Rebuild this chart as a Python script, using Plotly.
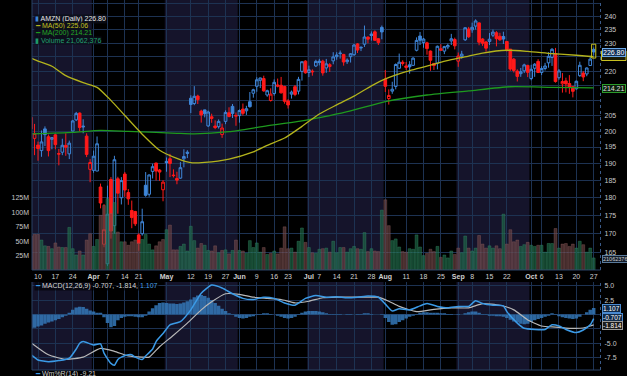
import plotly.graph_objects as go
import pandas as pd

# ---------------- data ----------------
holidays = ["2025-04-18", "2025-05-26", "2025-06-19", "2025-07-04", "2025-09-01"]
dates = [d.strftime("%Y-%m-%d") for d in pd.bdate_range("2025-03-06", "2025-10-27")
         if d.strftime("%Y-%m-%d") not in holidays]

prior_close = 203.80

open_ = [204.4, 197.7, 195.6, 193.9, 200.7, 198.2, 197.4, 198.8, 193.0, 193.4, 195.5, 192.9, 200.0, 203.6, 205.8, 201.6, 198.4, 188.2,
         187.9, 187.7, 183.0, 167.1, 162.0, 185.2, 172.1, 185.4, 179.9, 186.8, 181.4, 176.3, 176.0, 169.6, 169.9, 183.5, 180.9, 187.6, 190.1, 188.0, 182.2,
         190.6, 191.4, 186.5, 185.5, 185.6, 191.4, 193.4, 210.7, 208.95, 211.45, 206.45, 206.85, 201.65, 204.6, 201.6, 201.4, 198.9, 203.1, 205.9, 208.0, 204.8,
         204.98, 207.1, 206.55, 209.55, 212.4, 214.75, 216.8, 217.4, 211.8, 209.96, 212.3, 215.2, 215.1, 214.7, 209.8, 212.1, 214.6, 213.1, 219.9, 223.5,
         219.5, 219.7, 221.8, 223.0, 223.5, 221.1, 221.6, 223.6, 225.1, 226.2, 225.9, 223.3, 225.1, 225.8, 229.7, 228.5, 229.6, 232.2, 233.35, 234.15, 231.6, 235.8,
         217.2, 210.6, 213.1, 214.7, 221.0, 223.1, 221.8, 222.2, 222.0, 227.4, 232.6, 230.2, 230.1, 227.1, 222.7, 222.8, 227.35, 227.1, 228.6, 230.8, 231.3,
         223.5, 225.2, 231.2, 235.2, 234.9, 236.3, 237.5, 231.5, 230.4, 230.6, 232.9, 233.8, 232.5, 232.4, 230.6, 227.8, 224.2, 220.0, 219.1, 220.1, 222.0,
         217.4, 221.0, 223.4, 219.5, 220.9, 222.9, 224.8, 226.2, 217.7, 215.6, 216.6, 215.7, 214.6, 213.9, 218.4, 219.3, 219.0, 221.97, 227.7]
high = [205.8, 202.3, 196.7, 200.2, 201.5, 198.9, 198.0, 199.0, 194.4, 197.6, 199.3, 197.0, 203.6, 206.2, 206.0, 203.8, 199.3, 191.3,
        193.9, 198.3, 184.0, 178.1, 183.4, 185.9, 192.3, 186.0, 185.9, 187.4, 182.4, 179.1, 176.2, 170.0, 176.8, 187.4, 186.7, 189.9, 190.2, 188.3, 185.0,
        191.8, 192.9, 188.2, 187.5, 190.4, 194.3, 194.0, 211.7, 214.8, 211.9, 206.9, 206.9, 206.6, 205.6, 203.45, 203.75, 202.4, 206.7, 207.7, 208.8, 206.0,
        207.0, 208.95, 208.2, 212.8, 213.9, 217.85, 217.7, 218.4, 213.6, 214.05, 217.1, 217.4, 217.96, 214.9, 210.4, 213.3, 215.2, 218.0, 223.3, 223.8,
        221.9, 220.6, 224.0, 224.3, 224.0, 224.3, 222.8, 226.7, 226.7, 227.3, 226.1, 224.5, 226.4, 229.7, 230.0, 228.8, 236.5, 232.5, 234.3, 234.7, 231.8, 236.5,
        220.4, 213.7, 216.3, 222.7, 226.2, 223.8, 223.2, 223.5, 224.9, 232.1, 234.1, 231.9, 230.5, 227.3, 222.8, 229.1, 229.6, 229.0, 229.8, 233.4, 232.0,
        226.6, 227.2, 235.8, 236.0, 237.6, 238.85, 237.7, 231.8, 230.8, 233.7, 235.0, 234.4, 233.8, 234.2, 230.6, 227.8, 224.6, 220.6, 221.1, 222.6, 222.2,
        222.2, 222.8, 224.2, 221.7, 222.9, 226.7, 228.2, 228.25, 220.7, 219.3, 217.7, 218.6, 214.8, 216.7, 223.3, 220.0, 221.3, 225.4, 228.4]
low = [198.3, 192.5, 190.8, 192.0, 195.3, 192.1, 194.3, 194.3, 189.4, 192.5, 192.3, 191.3, 199.9, 203.2, 199.9, 199.3, 191.9, 184.4,
       187.2, 187.7, 176.9, 166.3, 161.4, 168.6, 169.9, 175.4, 178.0, 180.2, 177.9, 171.4, 172.0, 165.4, 169.4, 180.2, 180.2, 185.5, 184.9, 184.8, 178.9,
       187.5, 185.9, 185.8, 183.8, 185.4, 188.8, 191.6, 205.8, 208.4, 208.8, 202.7, 204.4, 201.3, 202.65, 200.6, 200.8, 197.85, 202.2, 204.4, 204.2, 201.7,
       202.7, 205.0, 205.2, 207.6, 210.9, 212.9, 214.15, 212.9, 211.2, 209.6, 211.6, 214.4, 212.3, 208.9, 207.3, 210.6, 211.4, 212.0, 216.7, 219.1,
       217.9, 218.4, 221.4, 222.0, 218.4, 219.4, 219.7, 222.4, 224.0, 224.4, 221.9, 222.5, 223.0, 225.4, 226.4, 227.1, 228.6, 229.9, 230.9, 230.8, 229.3, 231.4,
       212.8, 208.6, 212.2, 213.7, 220.8, 221.9, 220.4, 219.1, 222.0, 227.0, 229.3, 228.3, 225.8, 220.1, 220.4, 220.6, 227.3, 226.0, 227.8, 229.3, 227.7,
       221.5, 224.4, 230.8, 231.9, 233.8, 235.0, 229.2, 229.0, 226.9, 229.3, 232.2, 228.8, 230.8, 229.7, 226.9, 220.1, 219.5, 216.4, 218.0, 219.3, 217.9,
       216.8, 218.0, 219.3, 218.6, 220.2, 221.2, 221.8, 216.0, 217.0, 212.6, 212.7, 212.2, 211.0, 213.6, 218.0, 216.5, 218.2, 221.9, 225.5]
close = [200.70, 199.25, 194.54, 196.59, 198.89, 193.89, 197.95, 195.74, 192.82, 195.54, 194.95, 196.21, 203.26, 205.71, 201.13, 201.36, 192.72, 190.26,
         192.17, 196.01, 178.41, 171.00, 175.26, 170.66, 191.10, 181.22, 184.87, 182.12, 179.59, 174.33, 172.61, 167.32, 173.18, 180.60, 186.54, 188.99, 187.70, 187.39, 184.42,
         190.20, 189.98, 186.35, 185.01, 188.71, 192.08, 193.06, 208.64, 211.37, 210.25, 205.17, 205.59, 206.16, 204.07, 201.12, 203.10, 200.99, 206.02, 204.72, 205.70, 205.01,
         206.65, 205.71, 207.23, 207.91, 213.57, 216.98, 217.61, 213.20, 213.24, 212.10, 216.10, 214.82, 212.52, 209.69, 208.47, 212.77, 211.99, 217.12, 223.30, 219.39,
         220.46, 219.92, 223.41, 223.47, 219.36, 222.54, 222.26, 225.02, 225.69, 226.35, 223.19, 223.88, 226.13, 229.30, 227.47, 228.29, 232.23, 231.44, 232.79, 231.01, 230.19, 234.11,
         214.75, 211.65, 213.75, 222.31, 223.13, 222.69, 221.30, 221.47, 224.56, 230.98, 231.03, 231.49, 228.01, 223.81, 221.95, 228.84, 227.94, 228.71, 229.12, 231.60, 229.00,
         225.34, 225.99, 235.68, 232.33, 235.84, 238.24, 230.33, 229.95, 228.15, 231.43, 234.05, 231.62, 231.23, 231.48, 227.63, 220.71, 220.21, 218.15, 219.78, 222.17, 219.57,
         220.63, 222.41, 219.51, 220.90, 221.78, 225.22, 227.74, 216.37, 220.07, 216.39, 215.57, 214.47, 213.04, 216.48, 222.03, 217.95, 221.09, 224.21, 226.80]
volume_m = [59, 62, 62, 52, 42, 41, 37, 47, 40, 39, 39, 74, 37, 26, 33, 26, 52, 63,
            41, 53, 95, 112, 124, 98, 117, 66, 49, 49, 43, 49, 52, 47, 53, 62, 45, 35, 42, 49, 53,
            70, 78, 35, 35, 41, 45, 33, 76, 51, 38, 46, 43, 34, 33, 42, 30, 34, 35, 28, 34, 52,
            34, 33, 29, 51, 39, 47, 31, 39, 27, 29, 33, 28, 38, 75, 37, 38, 31, 50, 73, 48,
            39, 30, 29, 36, 37, 38, 31, 50, 30, 39, 39, 31, 37, 41, 37, 36, 65, 32, 37, 33, 32, 104,
            122, 77, 51, 54, 40, 32, 31, 37, 36, 61, 40, 25, 29, 36, 32, 41, 22, 26, 21, 33, 27,
            38, 30, 59, 38, 33, 38, 60, 45, 38, 42, 38, 42, 37, 97, 45, 70, 49, 52, 41, 44, 48,
            43, 41, 43, 43, 31, 46, 46, 72, 38, 45, 46, 41, 45, 38, 50, 44, 31, 38, 21.06]

# moving averages (position = trading-day number, value)
ma50_pos = [0, 2, 6, 10, 15, 19, 23, 27, 32, 37, 42, 46, 50, 57, 64, 68, 73, 78, 83, 88, 93, 98, 102, 108, 115, 121, 126, 130, 137, 143, 150, 157, 162]
ma50_val = [224.6, 223.5, 221.7, 218.4, 216.0, 214.4, 210.0, 205.0, 199.0, 194.0, 191.5, 190.2, 190.3, 191.3, 193.5, 195.5, 197.8, 201.5, 205.5, 208.5,
            211.4, 214.9, 217.3, 219.8, 222.1, 224.0, 225.3, 226.4, 227.4, 227.0, 226.2, 225.6, 225.06]
ma200_pos = [0, 12, 20, 28, 36, 42, 47, 57, 67, 77, 86, 92, 102, 114, 126, 138, 150, 162]
ma200_val = [199.1, 199.6, 200.2, 199.9, 199.6, 199.3, 199.1, 199.8, 201.5, 203.1, 205.0, 206.5, 209.6, 211.8, 213.2, 214.6, 214.4, 214.21]

# MACD(12,26,9)
macd_pos = [0, 2, 5, 8, 11, 13, 14, 15, 17, 18, 20, 21, 23, 24, 25, 26, 28, 29, 30, 32, 33, 35, 36, 38, 40, 43, 46, 49, 52, 55, 58, 61, 64, 67,
            70, 73, 76, 79, 82, 85, 88, 91, 94, 97, 100, 102, 104, 106, 109, 112, 114, 117, 120, 123, 126, 128, 130, 133, 136, 137, 140,
            142, 145, 148, 150, 152, 154, 157, 159, 161, 162]
macd_val = [-7.0, -7.9, -8.2, -8.0, -7.6, -6.0, -5.0, -4.7, -5.1, -5.3, -5.1, -6.7, -8.5, -8.8, -7.8, -7.4, -7.0, -7.0, -7.4, -7.8, -7.2, -6.0,
            -4.7, -3.3, -1.8, -1.25, 0.8, 3.7, 5.1, 4.6, 3.6, 2.8, 2.6, 3.0, 2.8, 2.0, 1.6, 2.8, 3.3, 3.0, 3.1, 2.9, 3.0, 3.2, 3.0, 1.8, 0.6,
            1.0, 0.8, 1.5, 1.9, 1.4, 1.15, 1.4, 1.4, 2.4, 1.9, 1.6, 1.5, 0.5, -1.5, -2.4, -2.6, -2.6, -1.8, -2.0, -2.6, -3.15, -2.7, -1.8, -0.707]
signal_pos = [0, 5, 10, 15, 20, 24, 28, 32, 34, 37, 41, 45, 49, 52, 56, 60, 64, 68, 72, 76, 80, 84, 88, 92, 96, 100, 103, 106, 111,
              116, 121, 126, 130, 135, 139, 143, 147, 151, 155, 159, 161, 162]
signal_val = [-4.9, -7.0, -7.8, -7.4, -5.9, -6.4, -7.2, -7.4, -7.4, -5.6, -3.6, -1.5, 0.8, 2.2, 3.6, 3.5, 3.0, 2.8, 2.6, 2.0, 2.3, 2.9,
              3.0, 3.0, 3.0, 3.0, 2.3, 1.4, 0.5, 0.9, 1.15, 1.15, 1.9, 1.6, 0.8, -0.95, -2.0, -2.2, -2.4, -2.35, -2.0, -1.814]
hist_val = [-2.4, -2.3, -2.1, -1.9, -1.6,
            -1.4, -1.2, -1.0, -0.8, -0.5, -0.2, 0.3, 0.8, 1.2, 1.35, 1.3, 1.0, 0.7, 0.5, 0.3,
            0.3, -0.5, -1.5, -2.2, -2.0, -1.0, -0.6, -0.4, -0.3, -0.3, -0.4, -0.5, -0.5, -0.2, 0.5,
            1.1, 1.6, 2.0, 2.1, 2.0, 1.9, 1.9, 1.8, 1.9, 2.1, 2.3, 2.6, 3.0, 3.3, 3.4,
            3.2, 2.9, 2.5, 2.0, 1.5, 1.0, 0.6, 0.2, -0.1, -0.4, -0.6, -0.7, -0.6, -0.4, -0.3,
            -0.1, 0.1, 0.2, 0.2, 0.1, 0.0, -0.2, -0.4, -0.6, -0.7, -0.6, -0.4, -0.1, 0.3, 0.5,
            0.6, 0.6, 0.6, 0.5, 0.4, 0.2, 0.1, 0.1, 0.1, 0.1, 0.0, -0.1, -0.1, 0.0, 0.1,
            0.1, 0.2, 0.2, 0.1, 0.0, 0.0, 0.1, -0.6, -1.3, -1.8, -1.7, -1.3, -1.0, -0.7, -0.4,
            -0.2, 0.1, 0.3, 0.4, 0.4, 0.3, 0.3, 0.3, 0.2, 0.2, 0.1, 0.1, 0.0, -0.1, 0.0,
            0.2, 0.4, 0.5, 0.5, 0.3, 0.1, -0.1, -0.2, -0.2, -0.3, -0.3, -0.4, -0.6, -0.9, -1.2,
            -1.4, -1.6, -1.7, -1.6, -1.3, -1.0, -0.8, -0.6, -0.4, -0.2, 0.2, -0.1, -0.3, -0.5, -0.6,
            -0.7, -0.8, -0.7, -0.4, 0.0, 0.4, 0.8, 1.107]

price_ticks = [165, 170, 175, 180, 185, 190, 195, 200, 205, 210, 215, 220, 225, 230, 235, 240, 245]
price_tick_text = ["165", "170", "175", "180", "185", "190", "195", "200", "205", "", "", "220", "", "230", "235", "240", "245"]
vol_ticks_m = [25, 50, 75, 100, 125]
macd_ticks = [-7.5, -5.0, -2.5, 0.0, 2.5, 5.0]
macd_tick_text = ["-7.5", "-5.0", "", "", "2.5", "5.0"]
x_tick_dates = ["2025-03-10", "2025-03-17", "2025-03-24", "2025-04-01", "2025-04-07", "2025-04-14", "2025-04-21",
                "2025-05-01", "2025-05-12", "2025-05-19", "2025-05-27", "2025-06-02", "2025-06-09", "2025-06-16", "2025-06-23",
                "2025-07-01", "2025-07-07", "2025-07-14", "2025-07-21", "2025-07-28", "2025-08-01", "2025-08-11", "2025-08-18",
                "2025-08-25", "2025-09-02", "2025-09-08", "2025-09-15", "2025-09-22", "2025-10-01", "2025-10-06", "2025-10-13",
                "2025-10-20", "2025-10-27"]
x_tick_text = ["10", "17", "24", "<b>Apr</b>", "7", "14", "21", "<b>May</b>", "12", "19", "27", "<b>Jun</b>", "9", "16", "23",
               "<b>Jul</b>", "7", "14", "21", "28", "<b>Aug</b>", "11", "18", "25", "<b>Sep</b>", "8", "15", "22", "<b>Oct</b>",
               "6", "13", "20", "27"]

# ---------------- styling ----------------
W, H = 627, 376
FONT = "Liberation Sans"
BLUE = "#3f86d8"
RED = "#ff1a1a"
GRID = "#1d3252"
SHADE = "#15142b"
TXT = "#c8c8c8"

def px(xp):
    return xp / W

def py(yp):
    return 1 - yp / H

n = len(dates)
prev = [prior_close] + close[:-1]
up = [c >= p for c, p in zip(close, prev)]

def pick(arr, mask):
    return [a if m else None for a, m in zip(arr, mask)]

fig = go.Figure()

# volume (overlay on price panel)
vol_colors = ["rgba(30,110,75,0.62)" if u else "rgba(110,70,70,0.62)" for u in up]
vol_lines = ["rgba(60,150,110,0.7)" if u else "rgba(150,100,100,0.7)" for u in up]
fig.add_trace(go.Bar(x=dates, y=[v * 1e6 for v in volume_m], yaxis="y2", xaxis="x",
                     marker=dict(color=vol_colors, line=dict(color=vol_lines, width=0.5)),
                     width=0.82, showlegend=False, hoverinfo="skip"))

# moving averages
fig.add_trace(go.Scatter(x=[dates[i] for i in ma200_pos], y=ma200_val, mode="lines",
                         line=dict(color="#1e9a1e", width=1.3, shape="spline", smoothing=0.6), showlegend=False))
fig.add_trace(go.Scatter(x=[dates[i] for i in ma50_pos], y=ma50_val, mode="lines",
                         line=dict(color="#b3b31c", width=1.3, shape="spline", smoothing=0.6), showlegend=False))

# candles: blue when close >= previous close, red otherwise; hollow when close > open
for mask, col in [(up, BLUE), ([not u for u in up], RED)]:
    fig.add_trace(go.Candlestick(
        x=dates, open=pick(open_, mask), high=pick(high, mask), low=pick(low, mask), close=pick(close, mask),
        increasing=dict(line=dict(color=col, width=1), fillcolor="rgba(0,0,0,0)"),
        decreasing=dict(line=dict(color=col, width=1), fillcolor=col),
        whiskerwidth=0, showlegend=False, xaxis="x", yaxis="y"))

# MACD panel
fig.add_trace(go.Bar(x=dates, y=hist_val, xaxis="x2", yaxis="y3", width=1.0,
                     marker=dict(color="rgba(52,120,185,0.85)", line=dict(width=0)), showlegend=False))
fig.add_trace(go.Scatter(x=[dates[i] for i in signal_pos], y=signal_val, xaxis="x2", yaxis="y3", mode="lines",
                         line=dict(color="#b8b8b8", width=1.2, shape="spline", smoothing=0.5), showlegend=False))
fig.add_trace(go.Scatter(x=[dates[i] for i in macd_pos], y=macd_val, xaxis="x2", yaxis="y3", mode="lines",
                         line=dict(color="#3b9ae6", width=1.5, shape="spline", smoothing=0.5), showlegend=False))

# month shading
shapes = []
month_starts = [i for i in range(n) if i == 0 or dates[i][5:7] != dates[i - 1][5:7]]
bounds = month_starts + [n + 5]
for k in range(len(month_starts)):
    if k % 2 == 0:
        x0 = bounds[k] - 0.5 if k > 0 else -5
        x1 = bounds[k + 1] - 0.5
        for yr in ["y domain", "y3 domain"]:
            shapes.append(dict(type="rect", xref="x", yref=yr, x0=x0, x1=x1, y0=0, y1=1,
                               fillcolor=SHADE, line=dict(width=0), layer="below"))
# panel borders
for y0, y1 in [(py(270), 1.0), (py(370), py(282))]:
    shapes.append(dict(type="line", xref="paper", yref="paper", x0=px(32), x1=px(32), y0=y0, y1=y1,
                       line=dict(color="#2a4266", width=1)))
    shapes.append(dict(type="line", xref="paper", yref="paper", x0=px(600.5), x1=px(600.5), y0=y0, y1=y1,
                       line=dict(color="#3a5a88", width=1, dash="dot")))
    shapes.append(dict(type="line", xref="paper", yref="paper", x0=px(32), x1=px(600.5), y0=y0, y1=y0,
                       line=dict(color="#2a4266", width=1)))
# highlight of last candle
shapes.append(dict(type="rect", xref="x", yref="y", x0=n - 1.6, x1=n - 0.4, y0=224.6, y1=229.6,
                   line=dict(color="#c8c020", width=1), fillcolor="rgba(0,0,0,0)"))
# MA(50) value tag, mostly hidden behind the price tag
shapes.append(dict(type="rect", xref="paper", yref="paper", x0=px(601.5), x1=px(626), y0=py(60.5), y1=py(51),
                   line=dict(color="#c8c020", width=1), fillcolor="#1a1a05"))

xr = [0.27, 163.96]
common_x = dict(type="category", range=xr, showgrid=True, gridcolor=GRID, gridwidth=1,
                tickmode="array", tickvals=x_tick_dates, zeroline=False, showline=False, ticks="",
                rangeslider=dict(visible=False), fixedrange=True)

fig.update_layout(
    width=W, height=H, margin=dict(l=0, r=0, t=0, b=0),
    paper_bgcolor="black", plot_bgcolor="rgba(0,0,0,0)",
    font=dict(family=FONT, size=7, color=TXT),
    bargap=0.15, boxgap=0.22, boxgroupgap=0.02, showlegend=False,
    xaxis=dict(domain=[px(32), px(600.5)], anchor="y", ticktext=x_tick_text, showticklabels=True,
               tickfont=dict(size=7, color="#d0d0d0"), ticklabelstandoff=1, **common_x),
    xaxis2=dict(domain=[px(32), px(600.5)], anchor="y3", matches="x", showticklabels=False, **common_x),
    yaxis=dict(domain=[py(270), 1.0], type="log",
               range=[2.20520, 2.39146], side="right", tickmode="array", tickvals=price_ticks,
               ticktext=price_tick_text, showgrid=True, gridcolor=GRID, zeroline=False,
               tickfont=dict(size=7, color=TXT), ticks="", ticklabelstandoff=3, fixedrange=True),
    yaxis2=dict(domain=[py(270), 1.0], overlaying="y", side="left", range=[0, 469e6],
                tickmode="array", tickvals=[v * 1e6 for v in vol_ticks_m], ticktext=[f"{v}M" for v in vol_ticks_m],
                showgrid=False, zeroline=False, tickfont=dict(size=7, color=TXT), ticks="", ticklabelstandoff=2,
                fixedrange=True, anchor="x"),
    yaxis3=dict(domain=[py(370), py(282)], range=[-9.64, 5.64], side="right", tickmode="array",
                tickvals=macd_ticks, ticktext=macd_tick_text, showgrid=True, gridcolor=GRID,
                zeroline=False, tickfont=dict(size=7, color=TXT), ticks="", ticklabelstandoff=3, fixedrange=True,
                anchor="x2"),
    shapes=shapes,
)

ann = []

def label(x, y, text, color, bg="rgba(0,0,0,0)", border="rgba(0,0,0,0)", size=7, xanchor="left"):
    ann.append(dict(xref="paper", yref="paper", x=px(x), y=py(y), text=text, showarrow=False,
                    xanchor=xanchor, yanchor="middle", font=dict(family=FONT, size=size, color=color),
                    bgcolor=bg, bordercolor=border, borderwidth=1, borderpad=0))

# legend (top-left)
leg_bg = "rgba(12,14,24,0.78)"
label(34, 19.3, "<span style='color:#3f86d8'>▮</span> AMZN (Daily) 226.80", "#e6e6e6", bg=leg_bg)
label(34, 26.3, "<span style='color:#b3b31c'>━</span> MA(50) 225.06", "#c2c21e", bg=leg_bg)
label(34, 33.3, "<span style='color:#1e9a1e'>━</span> MA(200) 214.21", "#24a824", bg=leg_bg)
label(34, 40.3, "<span style='color:#1f9a6a'>▮</span> Volume 21,062,376", "#22a070", bg=leg_bg)
# MACD title
label(34, 285.5, "<span style='color:#3b9ae6'>━</span> MACD(12,26,9) -0.707, -1.814, <span style='color:#4aa0e8'>1.107</span>",
      "#d8d8d8", bg="rgba(0,0,0,0.6)")
# Williams %R title (cut by the bottom edge)
label(34, 374.0, "<span style='color:#3b9ae6'>━</span> Wm%R(14) -9.21", "#c8c8c8")

# right-side value tags
label(601.5, 52.0, "226.80", "#ffffff", bg="#123058", border="#6aa6e6")
label(601.5, 88.3, "214.21", "#e0e0e0", bg="#0b1f0b", border="#2a9a2a")
label(601.5, 258.5, "21062376", "#d0d0d0", bg="#101a28", border="#5a7a9a", size=5.5)
label(601.5, 308.3, "1.107", "#ffffff", bg="#102a48", border="#4a8ad0", size=6.5)
label(601.5, 317.0, "-0.707", "#ffffff", bg="#102a48", border="#4a8ad0", size=6.5)
label(601.5, 325.7, "-1.814", "#ffffff", bg="#1c1c1c", border="#9a9a9a", size=6.5)

fig.update_layout(annotations=ann)
fig.write_html("out.html", config={"displayModeBar": False, "staticPlot": True},
               post_script="document.body.style.margin='0';document.body.style.background='black';"
                           "window.dispatchEvent(new Event('resize'));")
